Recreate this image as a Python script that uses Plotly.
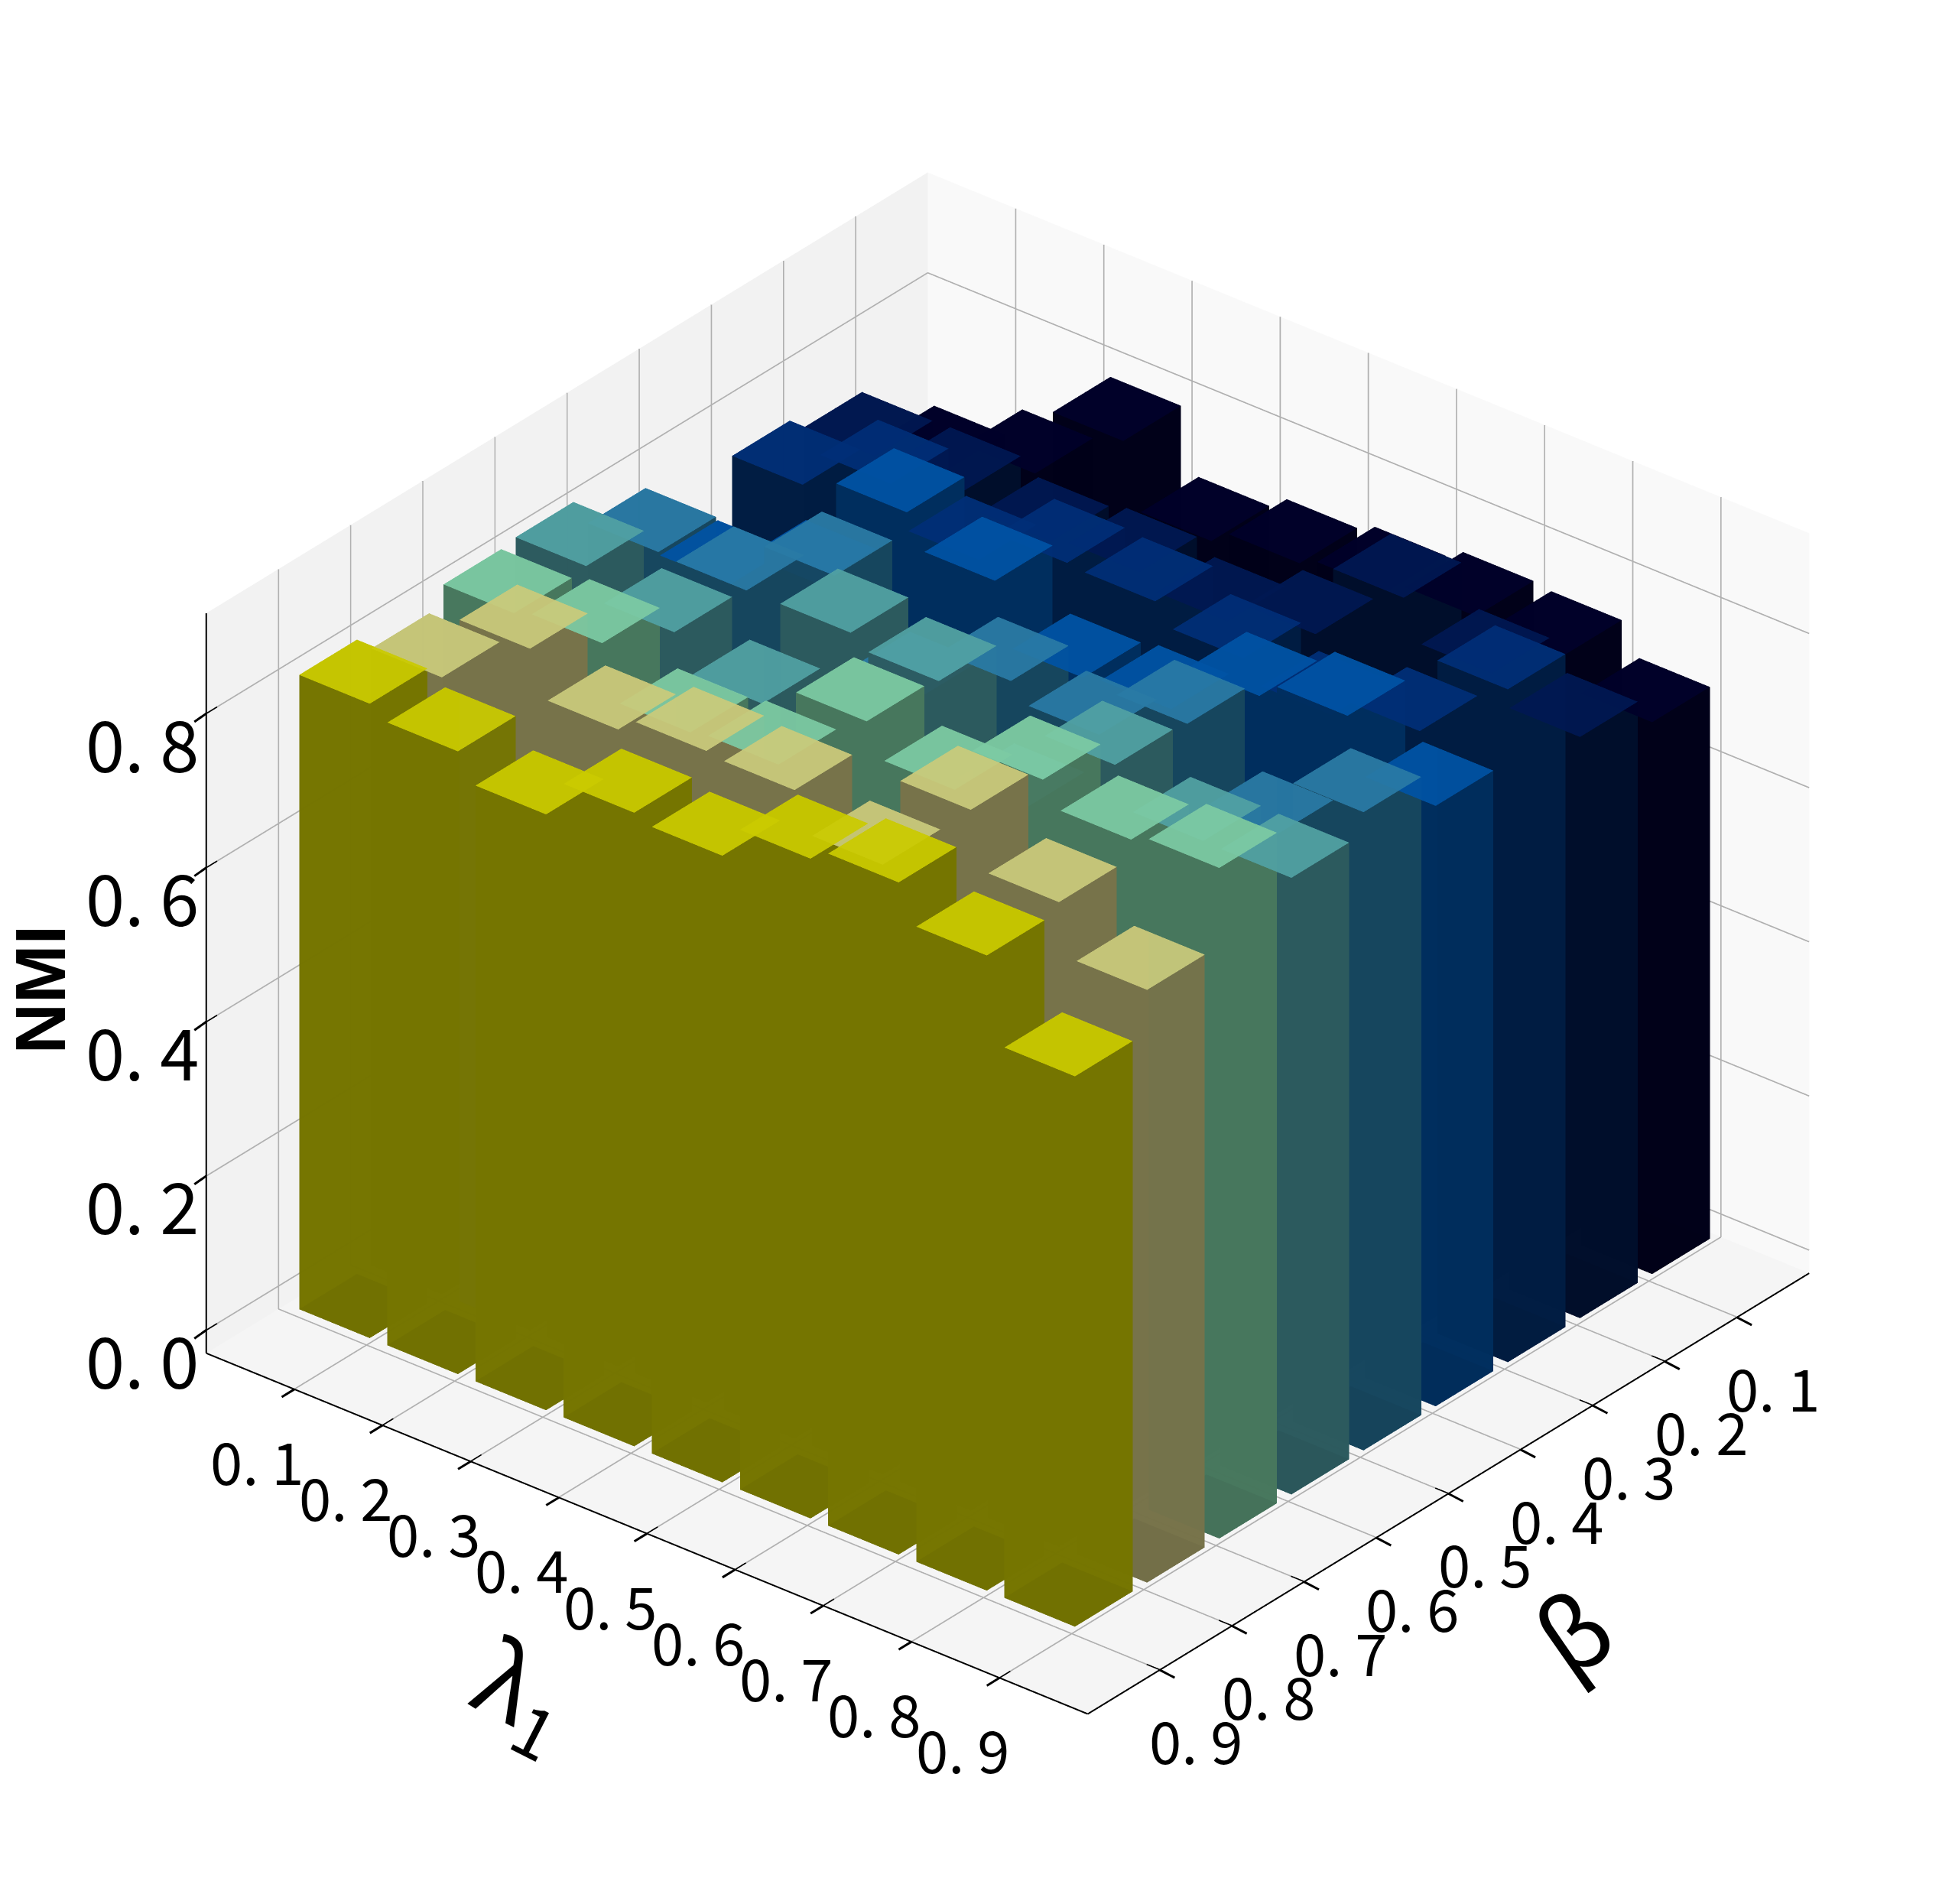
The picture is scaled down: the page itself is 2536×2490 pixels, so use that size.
import math
import plotly.graph_objects as go

lambda_ticks = [0.1, 0.2, 0.3, 0.4, 0.5, 0.6, 0.7, 0.8, 0.9]
beta_ticks = [0.1, 0.2, 0.3, 0.4, 0.5, 0.6, 0.7, 0.8, 0.9]
z_ticks = [0.0, 0.2, 0.4, 0.6, 0.8]
tick_text = ["0. 1", "0. 2", "0. 3", "0. 4", "0. 5", "0. 6", "0. 7", "0. 8", "0. 9"]
z_text = ["0. 0", "0. 2", "0. 4", "0. 6", "0. 8"]

# NMI per lambda, one list per beta
nmi_b01 = [.669, .711, .80, .717, .735, .746, .76, .756, .716]
nmi_b02 = [.744, .745, .727, .734, .717, .747, .841, .79, .754]
nmi_b03 = [.764, .812, .76, .803, .80, .773, .746, .772, .873]
nmi_b04 = [.692, .739, .879, .837, .758, .764, .828, .849, .779]
nmi_b05 = [.791, .788, .854, .745, .811, .788, .849, .751, .828]
nmi_b06 = [.83, .791, .745, .884, .868, .751, .853, .801, .80]
nmi_b07 = [.826, .834, .765, .77, .873, .831, .891, .86, .87]
nmi_b08 = [.80, .884, .826, .845, .841, .791, .909, .836, .769]
nmi_b09 = [.823, .808, .773, .822, .813, .856, .872, .824, .714]
nmi = [nmi_b01, nmi_b02, nmi_b03, nmi_b04, nmi_b05, nmi_b06, nmi_b07, nmi_b08, nmi_b09]

top_colors = ["#000029", "#001852", "#002e77", "#0053a4", "#297aa5", "#51a1a3", "#7ccaa3", "#caca7b", "#caca00"]
side_colors = ["#000018", "#000e2b", "#001c42", "#002e5e", "#16465e", "#2c5a5e", "#47775d", "#77734a", "#757500"]
bottom_colors = ["#000008", "#00040e", "#000916", "#000f20", "#081820", "#0f1e20", "#182820", "#2a2a1a", "#2a2a00"]

BAR_W = 0.08
BAR_OFF = 0.06
ALPHA = 0.93
AZ = math.radians(39.3)
EL = math.radians(30)
R = 1.42
Z0 = -0.03
Z1 = 0.93
SCALE = 1.24
ASPECT_Z = 0.75
CHUNK = 12
CAM = (math.cos(EL) * math.cos(AZ), math.cos(EL) * math.sin(AZ), math.sin(EL))


def bar_quads():
    quads = []
    for jb, b in enumerate(beta_ticks):
        for il, l in enumerate(lambda_ticks):
            h = nmi[jb][il]
            x0, y0 = b - BAR_OFF, l - BAR_OFF
            x1, y1 = x0 + BAR_W, y0 + BAR_W
            p = [(x0, y0, 0), (x1, y0, 0), (x1, y1, 0), (x0, y1, 0), (x0, y0, h), (x1, y0, h), (x1, y1, h), (x0, y1, h)]
            top, side, bot = top_colors[jb], side_colors[jb], bottom_colors[jb]
            for q, col in [((0, 1, 2, 3), bot), ((0, 3, 7, 4), side), ((0, 1, 5, 4), side),
                           ((1, 2, 6, 5), side), ((3, 2, 6, 7), side), ((4, 5, 6, 7), top)]:
                pts = [p[a] for a in q]
                mx = sum(v[0] for v in pts) / 4
                my = sum(v[1] for v in pts) / 4
                mz = sum(v[2] for v in pts) / 4
                quads.append((mx * CAM[0] + my * CAM[1] + mz * ASPECT_Z * CAM[2], pts, col))
    quads.sort(key=lambda t: t[0])
    return quads


def mesh_of(chunk):
    vx, vy, vz, ii, jj, kk, cc = [], [], [], [], [], [], []
    for _, pts, col in chunk:
        n = len(vx)
        vx += [v[0] for v in pts]
        vy += [v[1] for v in pts]
        vz += [v[2] for v in pts]
        ii += [n, n]
        jj += [n + 1, n + 2]
        kk += [n + 2, n + 3]
        cc += [col, col]
    return go.Mesh3d(x=vx, y=vy, z=vz, i=ii, j=jj, k=kk, facecolor=cc, flatshading=True,
                     opacity=ALPHA, hoverinfo="skip", showscale=False,
                     lighting=dict(ambient=1, diffuse=0, specular=0, roughness=1, fresnel=0))


def segs(pairs, color, width):
    xs, ys, zs = [], [], []
    for a, b in pairs:
        xs += [a[0], b[0], None]
        ys += [a[1], b[1], None]
        zs += [a[2], b[2], None]
    return go.Scatter3d(x=xs, y=ys, z=zs, mode="lines", line=dict(color=color, width=width), hoverinfo="skip")


grid = []
for t in beta_ticks:
    grid.append(((t, 0, Z0), (t, 1, Z0)))
    grid.append(((t, 0, Z0), (t, 0, Z1)))
for t in lambda_ticks:
    grid.append(((0, t, Z0), (1, t, Z0)))
    grid.append(((0, t, Z0), (0, t, Z1)))
for t in z_ticks:
    grid.append(((0, 0, t), (1, 0, t)))
    grid.append(((0, 0, t), (0, 1, t)))

black = [((1, 0, Z0), (1, 1, Z0)), ((0, 1, Z0), (1, 1, Z0)), ((1, 0, Z0), (1, 0, Z1))]
for t in lambda_ticks:
    black.append(((0.985, t, Z0), (1, t, Z0)))
for t in beta_ticks:
    black.append(((t, 0.985, Z0), (t, 1, Z0)))
for t in z_ticks:
    black.append(((0.985, 0, t), (1, 0, t)))

fig = go.Figure()
fig.add_trace(segs(grid, "#b0b0b0", 4))
fig.add_trace(segs(black, "black", 4))
all_quads = bar_quads()
for s in range(0, len(all_quads), CHUNK):
    fig.add_trace(mesh_of(all_quads[s:s + CHUNK]))

FONT = "Noto Sans CJK SC"
ann = []


def tick(x, y, z, ax, ay):
    ann.append(dict(x=x, y=y, z=z, text=" ", showarrow=True, arrowhead=0, arrowwidth=3, arrowcolor="black",
                    ax=ax, ay=ay, standoff=0, startstandoff=0, font=dict(size=1)))


for t, s in zip(lambda_ticks, tick_text):
    tick(1, t, Z0, -18, 11)
    ann.append(dict(x=1, y=t, z=Z0, text=s, showarrow=False, xshift=-48, yshift=-92,
                    font=dict(family=FONT, size=76, color="black")))
for t, s in zip(beta_ticks, tick_text):
    tick(t, 1, Z0, 21, 11)
    ann.append(dict(x=t, y=1, z=Z0, text=s, showarrow=False, xshift=48, yshift=-90,
                    font=dict(family=FONT, size=76, color="black")))
for t, s in zip(z_ticks, z_text):
    tick(1, 0, t, -17, 12)
    ann.append(dict(x=1, y=0, z=t, text=s, showarrow=False, xshift=-84, yshift=-36,
                    font=dict(family=FONT, size=92, color="black")))
ann.append(dict(x=1, y=0.5, z=Z0, text="λ<sub>1</sub>", showarrow=False, xshift=-160, yshift=-205,
                textangle=27, font=dict(family=FONT, size=130, color="black")))
ann.append(dict(x=0.5, y=1, z=Z0, text="β", showarrow=False, xshift=160, yshift=-176,
                textangle=-35, font=dict(family=FONT, size=130, color="black")))
ann.append(dict(x=1, y=0, z=0.45, text="<b>NMI</b>", showarrow=False, xshift=-217, yshift=-8,
                textangle=-90, font=dict(family="Liberation Sans", size=92, color="black")))


def axis(rng, bg):
    return dict(range=rng, showticklabels=False, title=dict(text=""), showgrid=False,
                showline=False, ticks="", showbackground=True, backgroundcolor=bg,
                zeroline=False, showspikes=False, autorange=False)


fig.update_layout(
    width=2536, height=2490, margin=dict(l=0, r=0, t=0, b=0), paper_bgcolor="white",
    showlegend=False,
    scene=dict(
        domain=dict(x=[0.0355, 0.9975], y=[0.0253, 0.9903]),
        xaxis=axis([0, 1], "#f9f9f9"),
        yaxis=axis([0, 1], "#f2f2f2"),
        zaxis=axis([Z0, Z1], "#f5f5f5"),
        aspectmode="manual", aspectratio=dict(x=SCALE, y=SCALE, z=ASPECT_Z * SCALE),
        camera=dict(
            projection=dict(type="orthographic"),
            up=dict(x=0, y=0, z=1), center=dict(x=0, y=0, z=0),
            eye=dict(x=R * CAM[0], y=R * CAM[1], z=R * CAM[2]),
        ),
        annotations=ann,
    ),
)
fig.write_html("out.html", config=dict(displayModeBar=False))
